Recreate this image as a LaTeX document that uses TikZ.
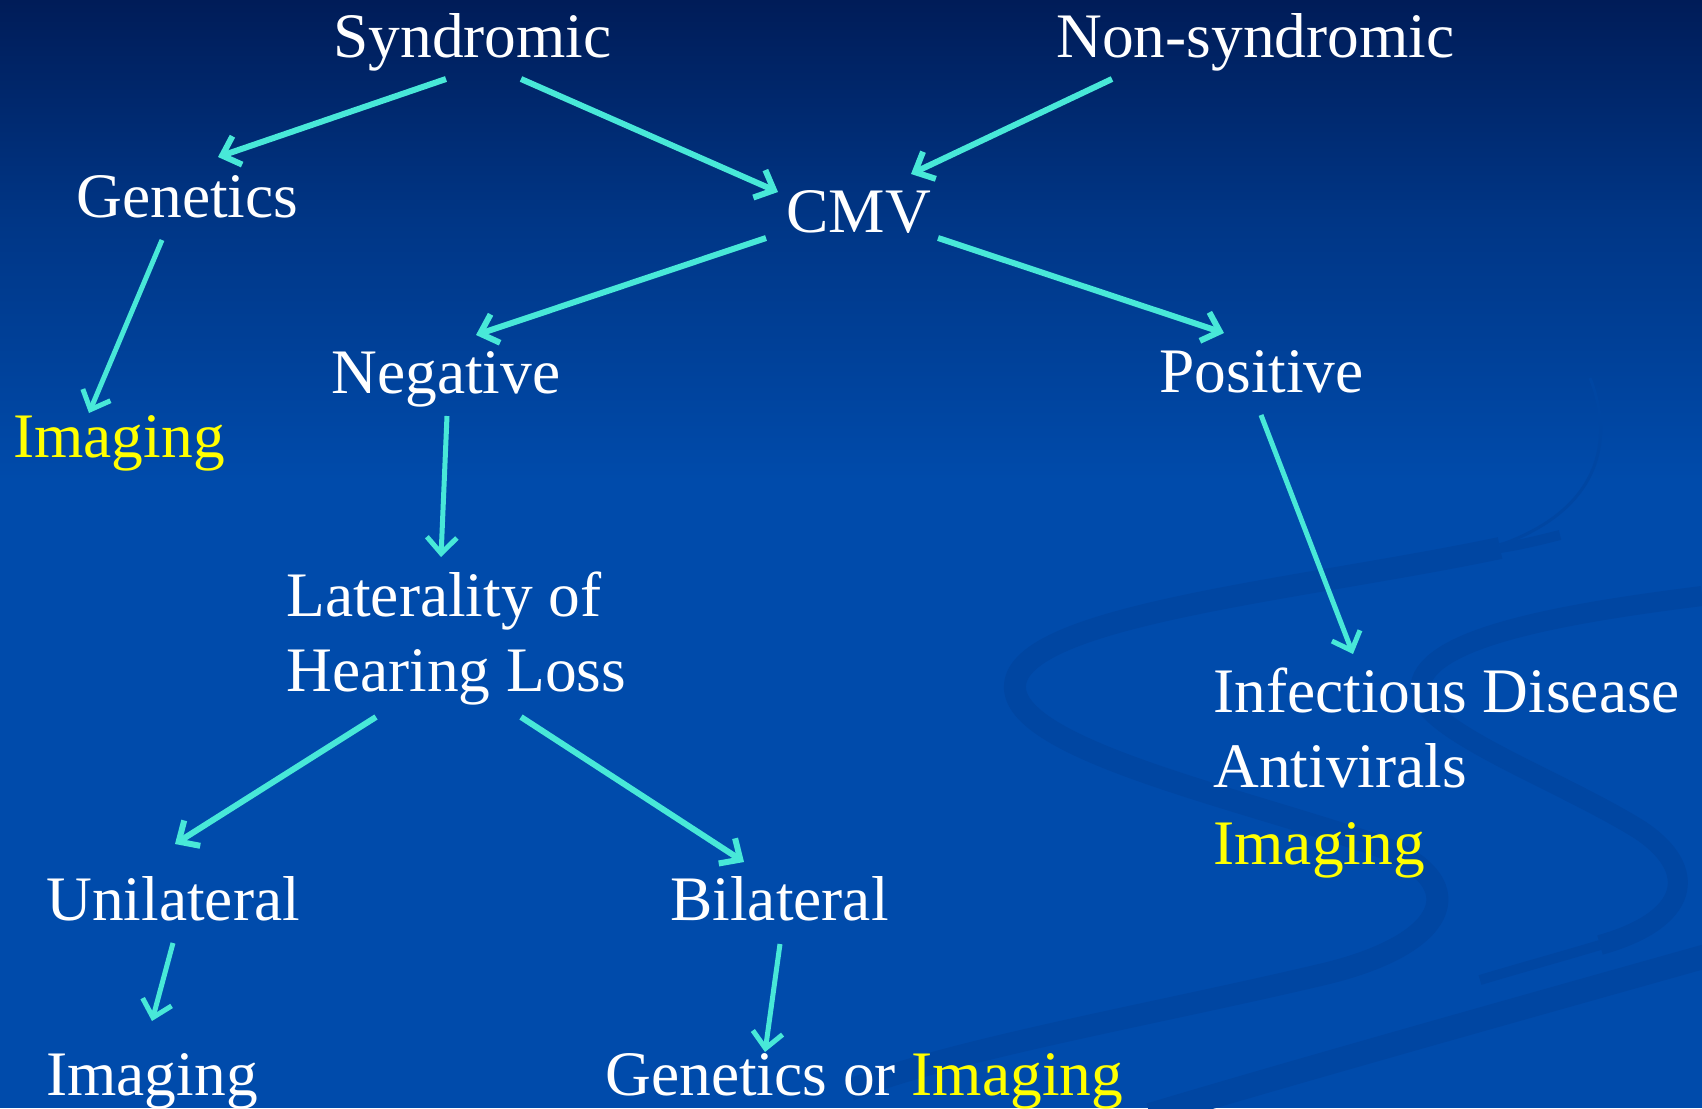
\documentclass[tikz,border=0pt]{standalone}
\usepackage{fontspec}
\setmainfont{Liberation Serif}
\usetikzlibrary{arrows.meta}
\definecolor{arrowc}{RGB}{72,232,216}
\definecolor{yel}{RGB}{255,255,0}
\definecolor{bgtop}{RGB}{0,28,88}
\definecolor{bgmid}{RGB}{0,54,134}
\definecolor{bgbot}{RGB}{0,75,171}
\definecolor{ribbonc}{RGB}{0,70,162}
\begin{document}
\begin{tikzpicture}[x=0.5pt,y=-0.5pt,
  lbl/.style={anchor=base west, inner sep=0pt, text=white, font=\fontsize{31.7}{38}\selectfont},
  arr/.style={draw=arrowc, line width=3pt, -{Straight Barb[length=8pt,width=15pt]}},
  arrthin/.style={arr, line width=2.5pt},
  ribbon/.style={draw=ribbonc, line cap=butt}]
\useasboundingbox (0,0) rectangle (1702,1108);
% background
\shade[top color=bgtop, bottom color=bgmid] (0,0) rectangle (1702,221);
\shade[top color=bgmid, bottom color=bgbot] (0,220) rectangle (1702,481);
\fill[bgbot] (0,480) rectangle (1702,1108);
% decorative swirl
\draw[ribbon, line width=1.5pt] (1590,378) .. controls (1615,440) and (1600,510) .. (1500,545);
\draw[ribbon, line width=5pt] (1560,535) .. controls (1540,540) and (1520,545) .. (1500,548);
\draw[ribbon, line width=11pt] (1500,548) .. controls (1300,590) and (1020,615) .. (1015,685) .. controls (1010,750) and (1250,800) .. (1390,850) .. controls (1470,885) and (1450,945) .. (1320,975) .. controls (1150,1015) and (950,1050) .. (850,1090);
\draw[ribbon, line width=10pt] (1702,596) .. controls (1550,615) and (1420,640) .. (1420,690) .. controls (1420,730) and (1560,780) .. (1640,830) .. controls (1700,870) and (1690,920) .. (1600,945);
\draw[ribbon, line width=5pt] (1600,945) .. controls (1560,957) and (1520,968) .. (1480,980);
\draw[ribbon, line width=12pt] (1710,955) .. controls (1550,1000) and (1300,1070) .. (1150,1115);
% labels
\node[lbl] (syn) at (333,57) {Syndromic};
\node[lbl] (non) at (1056,57) {Non-syndromic};
\node[lbl] (gen) at (76,217) {Genetics};
\node[lbl] (cmv) at (786,232) {CMV};
\node[lbl, text=yel] (img1) at (13,457) {Imaging};
\node[lbl] (neg) at (331,393) {Negative};
\node[lbl] (pos) at (1159,392) {Positive};
\node[lbl] (latA) at (286,616) {Laterality of};
\node[lbl] (latB) at (286,691) {Hearing Loss};
\node[lbl] (infA) at (1213,712) {Infectious Disease};
\node[lbl] (infB) at (1213,787) {Antivirals};
\node[lbl, text=yel] (infC) at (1213,864) {Imaging};
\node[lbl] (uni) at (46,920) {Unilateral};
\node[lbl] (bil) at (670,920) {Bilateral};
\node[lbl] (img2) at (46,1095) {Imaging};
\node[lbl] (gor) at (605,1095) {Genetics or \textcolor{yel}{Imaging}};
% connectors
\draw[arr] ([shift={(113,22)}]syn.base west) -- ([shift={(142,-60)}]gen.base west);
\draw[arr] ([shift={(188,22)}]syn.base west) -- ([shift={(-8,-40)}]cmv.base west);
\draw[arr] ([shift={(56,22)}]non.base west) -- ([shift={(125,-58)}]cmv.base west);
\draw[arrthin] ([shift={(86,23)}]gen.base west) -- ([shift={(76,-44)}]img1.base west);
\draw[arr] ([shift={(-20,6)}]cmv.base west) -- ([shift={(145,-58)}]neg.base west);
\draw[arr] ([shift={(152,6)}]cmv.base west) -- ([shift={(65,-59)}]pos.base west);
\draw[arrthin] ([shift={(116,23)}]neg.base west) -- ([shift={(155,-59)}]latA.base west);
\draw[arrthin] ([shift={(102,23)}]pos.base west) -- ([shift={(140,-58)}]infA.base west);
\draw[arr] ([shift={(90,26)}]latB.base west) -- ([shift={(129,-76)}]uni.base west);
\draw[arr] ([shift={(235,26)}]latB.base west) -- ([shift={(74,-58)}]bil.base west);
\draw[arrthin] ([shift={(127,23)}]uni.base west) -- ([shift={(106,-74)}]img2.base west);
\draw[arrthin] ([shift={(110,24)}]bil.base west) -- ([shift={(160,-43)}]gor.base west);
\end{tikzpicture}
\end{document}
